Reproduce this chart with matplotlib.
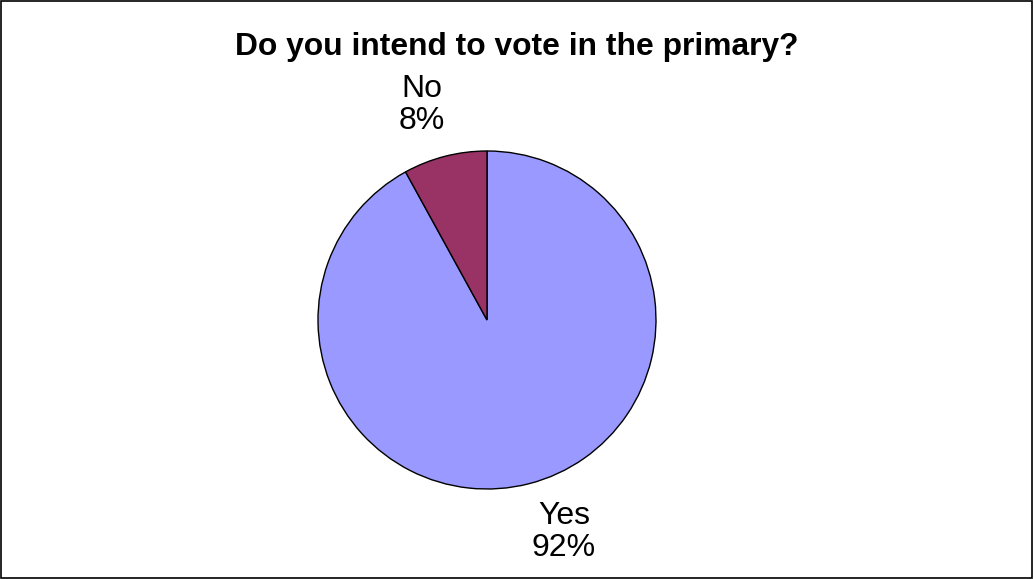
import matplotlib.pyplot as plt

plt.rcParams['font.family'] = ['Liberation Sans', 'DejaVu Sans']

title = 'Do you intend to vote in the primary?'
categories = ['Yes', 'No']
shares = [92, 8]
colors = ['#9999FF', '#993366']

fig = plt.figure(figsize=(10.34, 5.79), dpi=100)
ax = fig.add_axes([0, 0, 1, 1])

labels = [f'{c}\n{v}%' for c, v in zip(categories, shares)]
wedges, texts = ax.pie(shares, labels=labels, colors=colors, startangle=90,
                       counterclock=False, center=(487, 259), radius=169,
                       frame=True,
                       wedgeprops=dict(edgecolor='black', linewidth=1))
# label spots as in the original (pixels from bottom-left)
label_xy = [(564, 47), (422, 474)]
for t, xy in zip(texts, label_xy):
    t.set_position(xy)
    t.set_ha('center')
    t.set_va('center')
    t.set_fontsize(23)
    t.set_linespacing(1.1)
ax.set_xlim(0, 1034)
ax.set_ylim(0, 579)
ax.set_aspect('equal')
ax.axis('off')

fig.text(0.5, 1 - 47 / 579, title, ha='center', va='center',
         fontsize=22.9, fontweight='bold')

# outer border
fig.patches.append(plt.Rectangle((0.0005, 0.001), 0.998, 0.997, transform=fig.transFigure,
                                 fill=False, edgecolor='black', linewidth=1.2))

fig.savefig('out.png', dpi=100)
